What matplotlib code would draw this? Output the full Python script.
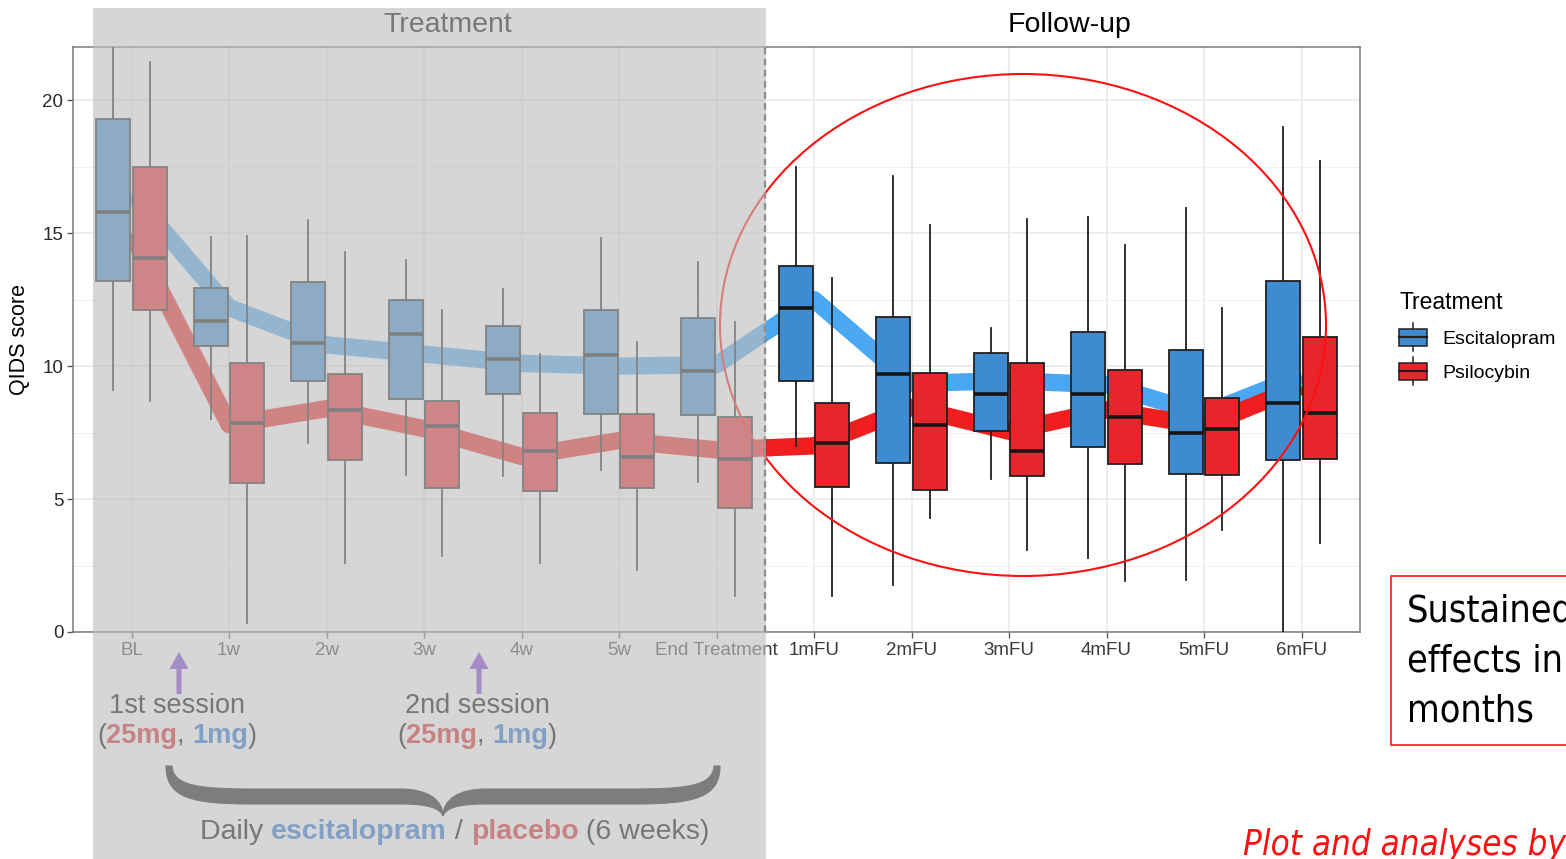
import numpy as np
import matplotlib
matplotlib.use("Agg")
import matplotlib.pyplot as plt
import matplotlib.transforms as mtransforms
from matplotlib.patches import Rectangle, Ellipse, FancyArrow, PathPatch
from matplotlib.path import Path
from matplotlib.legend_handler import HandlerBase
from matplotlib.lines import Line2D
from matplotlib.offsetbox import TextArea, HPacker, AnnotationBbox

plt.rcParams['font.family'] = ['Liberation Sans', 'DejaVu Sans']

# ---------------------------------------------------------------- data
timepoints = ["BL", "1w", "2w", "3w", "4w", "5w", "End Treatment",
              "1mFU", "2mFU", "3mFU", "4mFU", "5mFU", "6mFU"]

# Escitalopram arm: whisker low, Q1, median, Q3, whisker high, mean
esc_whislo = [9.1, 8.0, 7.1, 5.9, 5.85, 6.1, 5.65, 7.0, 1.75, 5.75, 2.8, 1.95, 0.0]
esc_q1     = [13.2, 10.75, 9.45, 8.75, 8.95, 8.2, 8.15, 9.45, 6.35, 7.55, 6.95, 5.95, 6.45]
esc_med    = [15.8, 11.7, 10.85, 11.2, 10.25, 10.4, 9.8, 12.2, 9.7, 8.95, 8.95, 7.5, 8.6]
esc_q3     = [19.3, 12.95, 13.15, 12.5, 11.5, 12.1, 11.8, 13.75, 11.85, 10.5, 11.3, 10.6, 13.2]
esc_whishi = [22.0, 14.85, 15.5, 14.0, 12.9, 14.8, 13.9, 17.5, 17.15, 11.45, 15.6, 15.95, 19.0]
esc_mean   = [16.5, 12.2, 10.8, 10.45, 10.1, 10.0, 10.05, 12.5, 9.35, 9.45, 9.3, 8.2, 9.65]

# Psilocybin arm
psi_whislo = [8.7, 0.35, 2.6, 2.85, 2.6, 2.35, 1.35, 1.35, 4.3, 3.1, 1.9, 3.85, 3.35]
psi_q1     = [12.1, 5.6, 6.45, 5.4, 5.3, 5.4, 4.65, 5.45, 5.35, 5.85, 6.3, 5.9, 6.5]
psi_med    = [14.05, 7.85, 8.35, 7.75, 6.8, 6.6, 6.5, 7.1, 7.8, 6.8, 8.1, 7.65, 8.25]
psi_q3     = [17.5, 10.1, 9.7, 8.7, 8.25, 8.2, 8.1, 8.6, 9.75, 10.1, 9.85, 8.8, 11.1]
psi_whishi = [21.45, 14.9, 14.3, 12.1, 10.45, 10.9, 11.65, 13.3, 15.3, 15.55, 14.55, 12.2, 17.7]
psi_mean   = [15.0, 7.8, 8.4, 7.65, 6.6, 7.2, 6.85, 7.0, 8.45, 7.55, 8.35, 7.75, 9.25]

groups = ["Escitalopram", "Psilocybin"]

# ---------------------------------------------------------------- style
W, H = 1566, 859
BOX_BLUE = "#3f8bd2"
BOX_RED = "#e8252b"
LINE_BLUE = "#4aa7f1"
LINE_RED = "#ef1f1f"
EDGE = "#202020"

fig = plt.figure(figsize=(W / 100, H / 100), dpi=100)
fig.patch.set_facecolor("white")

# pixel transform (origin top-left)
px = mtransforms.Affine2D().scale(1 / 100, -1 / 100).translate(0, H / 100) + fig.dpi_scale_trans

ax = fig.add_axes([73 / W, 1 - 632 / H, (1360 - 73) / W, (632 - 47) / H])
ax.set_xlim(-0.6, 12.6)
ax.set_ylim(0, 22)

x = np.arange(len(timepoints))
dodge = 0.1875
bw = 0.35

# grid
ax.set_xticks(x)
ax.set_xticklabels(timepoints)
ax.set_yticks([0, 5, 10, 15, 20])
ax.set_yticks([2.5, 7.5, 12.5, 17.5], minor=True)
ax.grid(which="major", color="#e8e8e8", lw=1.1)
ax.grid(which="minor", axis="y", color="#f0f0f0", lw=0.7)
ax.set_axisbelow(True)

# mean trajectories
ax.plot(x, esc_mean, color=LINE_BLUE, lw=12.5, solid_joinstyle="round",
        solid_capstyle="butt", zorder=2)
ax.plot(x, psi_mean, color=LINE_RED, lw=12.5, solid_joinstyle="round",
        solid_capstyle="butt", zorder=2)


def box_stats(lo, q1, med, q3, hi):
    return [dict(whislo=a, q1=b, med=c, q3=d, whishi=e, fliers=[])
            for a, b, c, d, e in zip(lo, q1, med, q3, hi)]


for stats, pos, col in [
    (box_stats(esc_whislo, esc_q1, esc_med, esc_q3, esc_whishi), x - dodge, BOX_BLUE),
    (box_stats(psi_whislo, psi_q1, psi_med, psi_q3, psi_whishi), x + dodge, BOX_RED),
]:
    ax.bxp(stats, positions=pos, widths=bw, patch_artist=True,
           showcaps=False, showfliers=False, manage_ticks=False,
           boxprops=dict(facecolor=col, edgecolor=EDGE, lw=1.3),
           medianprops=dict(color="#151515", lw=2.6, solid_capstyle="butt"),
           whiskerprops=dict(color=EDGE, lw=1.3), zorder=3)

# treatment / follow-up divider
ax.axvline(6.5, color="#3a3a3a", lw=1.6, ls=(0, (3, 2)), zorder=4)

for s in ax.spines.values():
    s.set_color("#7a7a7a")
    s.set_linewidth(1.1)
ax.tick_params(axis="both", which="major", length=4, width=1, color="#5a5a5a",
               labelsize=13.5)
ax.tick_params(axis="x", labelcolor="#3a3a3a", pad=3)
ax.tick_params(axis="y", labelcolor="#2a2a2a", pad=3)
ax.tick_params(which="minor", length=0)
ax.set_ylabel("QIDS score", fontsize=15.5, labelpad=9)


# legend with boxplot keys
class BoxKey(HandlerBase):
    def create_artists(self, legend, orig, xd, yd, width, height, fontsize, trans):
        cx = width / 2 - xd
        whisk = Line2D([cx, cx], [-yd - 0.3 * height, -yd + 1.3 * height],
                       color=EDGE, lw=1.1, transform=trans)
        rect = Rectangle((-xd, -yd), width, height, facecolor=orig.get_facecolor(),
                         edgecolor=EDGE, lw=1.1, transform=trans)
        med = Line2D([-xd, -xd + width], [-yd + height / 2] * 2, color=EDGE,
                     lw=1.6, transform=trans)
        return [whisk, rect, med]


handles = [Rectangle((0, 0), 1, 1, facecolor=BOX_BLUE),
           Rectangle((0, 0), 1, 1, facecolor=BOX_RED)]
leg = fig.legend(handles, groups, title="Treatment", loc="upper left",
                 bbox_to_anchor=(1399 / W, 1 - 291 / H), frameon=False,
                 fontsize=14, title_fontsize=16.5, handler_map={Rectangle: BoxKey()},
                 handlelength=1.45, handleheight=1.0, labelspacing=0.75,
                 handletextpad=0.8, borderpad=0, borderaxespad=0,
                 alignment="left")

# facet headers
fig.text(448, 25, "Treatment", transform=px, ha="center", va="center", fontsize=20.5)
fig.text(1070, 25, "Follow-up", transform=px, ha="center", va="center", fontsize=20.5)

# highlight ellipse around follow-up
fig.add_artist(Ellipse((1023, 325), 606, 502, transform=px, fill=False,
                       edgecolor="#ff1010", lw=1.5, zorder=5))

# session arrows and labels
PURPLE = "#7a37d9"
for ax_x in (179, 479):
    fig.add_artist(FancyArrow(ax_x, 694, 0, -42, width=5, head_width=19,
                              head_length=17, length_includes_head=True,
                              transform=px, color=PURPLE, lw=0, zorder=5))


def colored_line(parts, cx, cy, size):
    boxes = [TextArea(s, textprops=dict(color=c, fontsize=size, fontweight=w,
                                        family=['Liberation Sans', 'DejaVu Sans']))
             for s, c, w in parts]
    pack = HPacker(children=boxes, pad=0, sep=0, align="baseline")
    ab = AnnotationBbox(pack, (cx / W, 1 - cy / H), xycoords="figure fraction",
                        frameon=False, box_alignment=(0.5, 0.5), pad=0, zorder=5)
    fig.add_artist(ab)


SES_RED = "#d8201f"
SES_BLUE = "#1e6fd2"
for cx, label in [(177, "1st session"), (477, "2nd session")]:
    fig.text(cx, 706, label, transform=px, ha="center", va="center",
             fontsize=19.5, color="black", zorder=5)
    colored_line([("(", "black", "normal"), ("25mg", SES_RED, "bold"),
                  (", ", "black", "normal"), ("1mg", SES_BLUE, "bold"),
                  (")", "black", "normal")], cx, 736, 19.5)

colored_line([("Daily ", "black", "normal"), ("escitalopram", SES_BLUE, "bold"),
              (" / ", "black", "normal"), ("placebo", SES_RED, "bold"),
              (" (6 weeks)", "black", "normal")], 455, 832, 20.5)

# curly brace under the dosing period
left_half = [
    (Path.MOVETO, (166, 766)),
    (Path.CURVE4, (166, 798)), (Path.CURVE4, (192, 804)), (Path.CURVE4, (252, 804)),
    (Path.LINETO, (400, 804)),
    (Path.CURVE4, (428, 804)), (Path.CURVE4, (440, 808)), (Path.CURVE4, (443, 816)),
    (Path.CURVE4, (443, 800)), (Path.CURVE4, (428, 789)), (Path.CURVE4, (400, 789)),
    (Path.LINETO, (252, 789)),
    (Path.CURVE4, (200, 789)), (Path.CURVE4, (173, 786)), (Path.CURVE4, (172, 766)),
    (Path.CLOSEPOLY, (166, 766)),
]
for mirror in (False, True):
    codes = [c for c, _ in left_half]
    verts = [((886 - vx) if mirror else vx, vy) for _, (vx, vy) in left_half]
    fig.add_artist(PathPatch(Path(verts, codes), transform=px, facecolor="#101010",
                             edgecolor="#101010", lw=0.8, zorder=5))

# grey veil over the treatment phase
fig.add_artist(Rectangle((93, 8), 766 - 93, H, transform=px,
                         facecolor=(190 / 255, 190 / 255, 190 / 255), alpha=0.63,
                         lw=0, zorder=20))

# call-out box
fig.add_artist(Rectangle((1391, 576), 200, 169, transform=px, facecolor="white",
                         edgecolor="#ff1a1a", lw=1.2, zorder=21))
NARROW = ['Liberation Sans Narrow', 'DejaVu Sans']
for i, line in enumerate(["Sustained", "effects in", "months"]):
    fig.text(1407, 612 + 50 * i, line, transform=px, ha="left", va="center",
             fontsize=27, family=NARROW, stretch="condensed", color="black", zorder=22)

fig.text(1243, 845, "Plot and analyses by", transform=px, ha="left", va="center",
         fontsize=25, family=NARROW, stretch="condensed", style="italic",
         color="#ff1010", zorder=22)

fig.savefig("out.png", dpi=100)
